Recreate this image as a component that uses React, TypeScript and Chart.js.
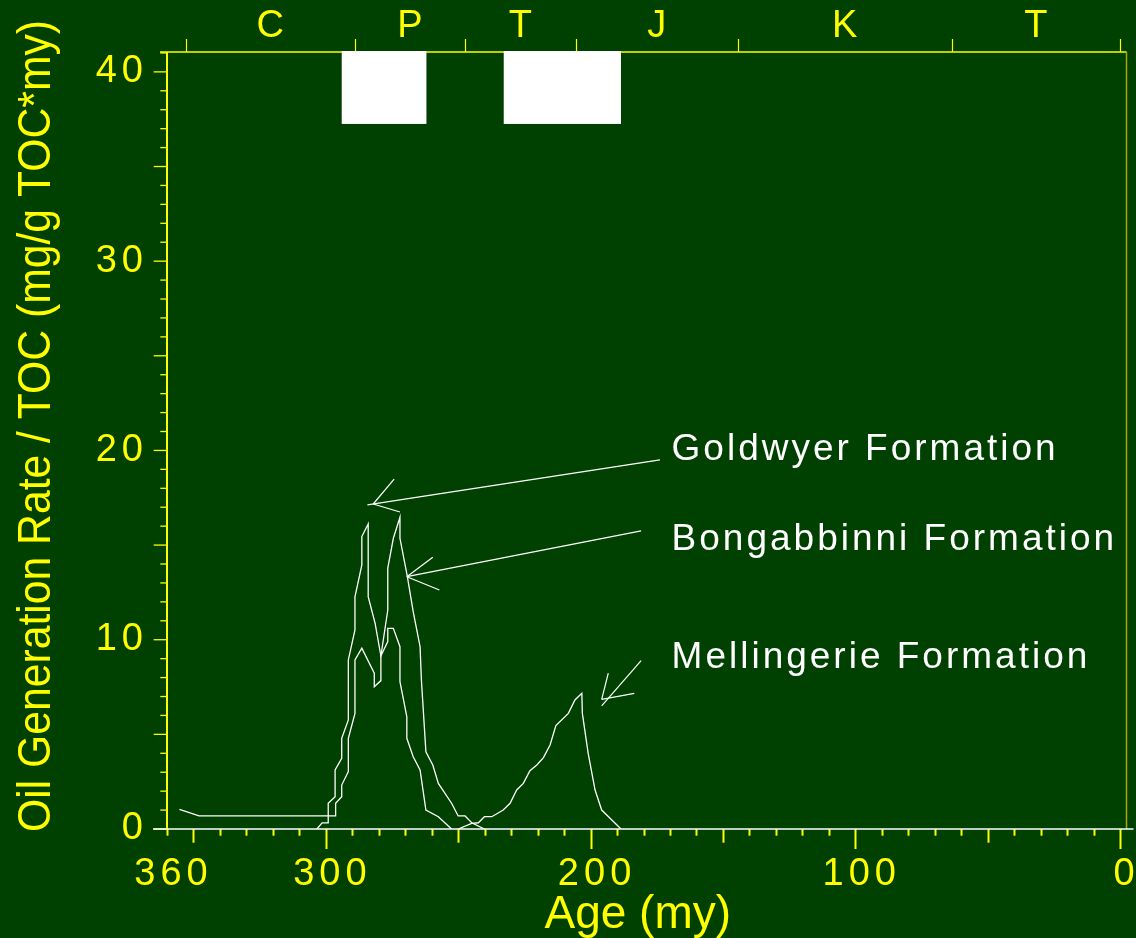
import React, { useEffect, useRef } from 'react';
import { Chart, registerables } from 'chart.js';

Chart.register(...registerables);

// ---------- axis ranges & tick labels ----------
const X_MIN = -2.45;
const X_MAX = 360;
const Y_MIN = 0;
const Y_MAX = 41.05;
const X_TICK_LABELS = [360, 300, 200, 100, 0];
const Y_TICK_LABELS = [0, 10, 20, 30, 40];

// ---------- geological periods (top axis) ----------
const PERIOD_NAMES = ['C', 'P', 'T', 'J', 'K', 'T'];
const PERIOD_BOUNDS = [353, 289, 247.5, 205.6, 144.4, 63.6, 0];

// ---------- series ----------
const GOLDWYER_AGE = [303.4, 301.4, 299.1, 299.1, 296.5, 296.5, 294.0, 294.0, 291.5, 291.5, 289.0, 289.0, 286.4, 286.4, 284.0, 284.0, 281.4, 279.2, 276.6, 276.6, 274.5, 272.0, 272.0, 269.4, 269.4, 267.0, 264.4, 262.2, 257.5, 252.5];
const GOLDWYER_RATE = [0, 0.32, 0.33, 1.36, 1.71, 3.12, 3.74, 4.79, 5.76, 8.93, 10.52, 12.27, 13.95, 15.45, 16.12, 12.27, 10.87, 9.14, 9.9, 10.6, 10.6, 9.63, 7.78, 5.93, 4.79, 3.82, 3.12, 1.0, 0.65, 0];

const BONGABBINNI_AGE = [355.3, 347.9, 296.3, 296.3, 294.0, 294.0, 291.5, 291.5, 289.0, 289.0, 286.4, 281.7, 281.7, 279.2, 279.2, 276.6, 276.6, 274.5, 272.0, 272.0, 269.2, 267.0, 264.4, 263.9, 262.2, 259.6, 257.5, 252.5, 250.0, 247.4, 244.9, 240.1];
const BONGABBINNI_RATE = [1.04, 0.69, 0.69, 1.36, 1.71, 2.32, 3.03, 4.79, 6.11, 8.93, 9.55, 8.23, 7.52, 7.84, 9.14, 11.57, 13.78, 15.36, 16.47, 15.36, 13.33, 11.48, 9.63, 7.87, 4.08, 3.38, 2.41, 1.36, 0.69, 0.69, 0.33, 0];

const MELLINGERIE_AGE = [250.0, 244.9, 242.4, 240.1, 237.3, 233.0, 230.4, 227.9, 225.4, 222.9, 220.3, 217.8, 215.3, 213.1, 208.4, 205.9, 203.3, 203.1, 200.9, 198.3, 195.8, 188.5];
const MELLINGERIE_RATE = [0, 0.3, 0.33, 0.65, 0.65, 1.0, 1.36, 2.06, 2.41, 3.08, 3.38, 3.77, 4.44, 5.46, 6.11, 6.82, 7.17, 6.11, 4.0, 2.06, 1.0, 0];

// ---------- white boxes near top (age ranges) ----------
const GAP_START = [294.0, 232.8];
const GAP_END = [262.0, 188.5];
const GAP_BASE = 37.25;

// ---------- annotations ----------
const LABEL_TEXT = ['Goldwyer Formation', 'Bongabbinni Formation', 'Mellingerie Formation'];
const LABEL_AGE = [169.4, 169.4, 169.4];
const LABEL_RATE = [19.5, 14.74, 8.51];

const ARROW_TAIL = [[173.8, 19.5], [180.9, 15.75], [180.9, 8.89]];
const ARROW_END = [[284.3, 17.12], [269.4, 13.33], [195.8, 6.5]];
const ARROW_VERTEX = [[282.1, 17.17], [269.4, 13.33], [195.8, 6.85]];
const ARROW_BARB1 = [[274.2, 18.49], [259.6, 14.36], [193.3, 8.23]];
const ARROW_BARB2 = [[272.0, 16.75], [257.1, 12.63], [183.5, 7.17]];

const X_TITLE = 'Age (my)';
const Y_TITLE = 'Oil Generation Rate / TOC (mg/g TOC*my)';

// ---------- styles ----------
const BG = '#004000';
const YELLOW = '#ffff00';
const WHITE = '#ffffff';
const FONT = "'Liberation Sans', Arial, Helvetica, sans-serif";

function seg(ctx: CanvasRenderingContext2D, x1: number, y1: number, x2: number, y2: number) {
  ctx.beginPath();
  ctx.moveTo(x1, y1);
  ctx.lineTo(x2, y2);
  ctx.stroke();
}

const decoPlugin = {
  id: 'deco',
  beforeDraw(chart: any) {
    const ctx = chart.ctx as any;
    ctx.save();
    ctx.fillStyle = BG;
    ctx.fillRect(0, 0, chart.width, chart.height);
    ctx.restore();
    ctx.letterSpacing = '5px';
  },
  afterDraw(chart: any) {
    const ctx = chart.ctx as any;
    const xs = chart.scales.x;
    const ys = chart.scales.y;
    const px = (v: number) => xs.getPixelForValue(v);
    const py = (v: number) => ys.getPixelForValue(v);
    const { left, right, top, bottom } = chart.chartArea;
    ctx.save();
    ctx.letterSpacing = '0px';
    ctx.lineCap = 'butt';

    // bottom tick marks
    ctx.strokeStyle = YELLOW;
    ctx.lineWidth = 2;
    for (let a = 0; a <= 360; a += 10) {
      const len = a % 100 === 0 ? 20 : a % 50 === 0 ? 13.7 : 6.7;
      const x = Math.round(px(a)) + 0.5;
      seg(ctx, x, bottom, x, bottom + len);
    }
    // left tick marks
    ctx.lineWidth = 1.3;
    for (let v = 0; v <= 41; v += 1) {
      const len = v % 5 === 0 ? 13.3 : 6.7;
      const y = py(v);
      seg(ctx, left - len, y, left, y);
    }
    // top period boundary ticks
    ctx.lineWidth = 1.2;
    for (const b of PERIOD_BOUNDS) {
      const x = Math.round(px(b)) + 0.5;
      seg(ctx, x, top - 13, x, top);
    }
    // frame lines
    ctx.lineWidth = 2;
    ctx.strokeStyle = YELLOW;
    seg(ctx, left, top, left, bottom);
    ctx.lineWidth = 1.5;
    seg(ctx, left - 7, top, right, top);
    ctx.strokeStyle = '#a8a800';
    seg(ctx, right, top, right, bottom);
    ctx.strokeStyle = WHITE;
    ctx.lineWidth = 1.5;
    seg(ctx, left - 14, bottom, right + 7, bottom);

    // white boxes
    ctx.fillStyle = WHITE;
    for (let i = 0; i < GAP_START.length; i++) {
      const x1 = px(GAP_START[i]);
      const x2 = px(GAP_END[i]);
      const y1 = py(Y_MAX);
      const y2 = py(GAP_BASE);
      ctx.fillRect(x1, y1 - 1, x2 - x1, y2 - y1 + 1);
    }

    // arrows
    ctx.strokeStyle = WHITE;
    ctx.lineWidth = 1.2;
    for (let i = 0; i < ARROW_TAIL.length; i++) {
      seg(ctx, px(ARROW_TAIL[i][0]), py(ARROW_TAIL[i][1]), px(ARROW_END[i][0]), py(ARROW_END[i][1]));
      const vx = px(ARROW_VERTEX[i][0]);
      const vy = py(ARROW_VERTEX[i][1]);
      seg(ctx, vx, vy, px(ARROW_BARB1[i][0]), py(ARROW_BARB1[i][1]));
      seg(ctx, vx, vy, px(ARROW_BARB2[i][0]), py(ARROW_BARB2[i][1]));
    }

    // annotation labels
    ctx.fillStyle = WHITE;
    ctx.font = `37px ${FONT}`;
    ctx.letterSpacing = '3px';
    ctx.textAlign = 'left';
    ctx.textBaseline = 'alphabetic';
    for (let i = 0; i < LABEL_TEXT.length; i++) {
      ctx.fillText(LABEL_TEXT[i], px(LABEL_AGE[i]), py(LABEL_RATE[i]));
    }

    // axis titles
    ctx.letterSpacing = '0px';
    ctx.fillStyle = YELLOW;
    ctx.font = `46px ${FONT}`;
    ctx.textAlign = 'center';
    ctx.fillText(X_TITLE, (left + right) / 2 - 9, 928);

    ctx.save();
    ctx.translate(50, 426);
    ctx.rotate(-Math.PI / 2);
    const w = ctx.measureText(Y_TITLE).width;
    ctx.scale(812 / w, 1);
    ctx.fillText(Y_TITLE, 0, 0);
    ctx.restore();

    ctx.restore();
  },
};

const periodMids = PERIOD_NAMES.map((_, i) => (PERIOD_BOUNDS[i] + PERIOD_BOUNDS[i + 1]) / 2);

function makeSeries(label: string, ages: number[], rates: number[]) {
  return {
    label,
    data: ages.map((a, i) => ({ x: a, y: rates[i] })),
    borderColor: WHITE,
    borderWidth: 1.3,
    pointRadius: 0,
    pointHoverRadius: 0,
    tension: 0,
    fill: false,
    xAxisID: 'x',
    yAxisID: 'y',
  };
}

export default function App() {
  const ref = useRef<HTMLCanvasElement>(null);
  useEffect(() => {
    document.body.style.margin = '0';
    document.body.style.background = BG;
    const tickFont = { family: FONT, size: 38, lineHeight: 1.2 };
    const chart = new Chart(ref.current as HTMLCanvasElement, {
      type: 'line',
      data: {
        datasets: [
          makeSeries('Goldwyer Formation', GOLDWYER_AGE, GOLDWYER_RATE),
          makeSeries('Bongabbinni Formation', BONGABBINNI_AGE, BONGABBINNI_RATE),
          makeSeries('Mellingerie Formation', MELLINGERIE_AGE, MELLINGERIE_RATE),
        ] as any,
      },
      options: {
        responsive: false,
        animation: false,
        devicePixelRatio: 1,
        layout: { padding: { left: 0, right: 9.5, top: 0, bottom: 0 } },
        plugins: { legend: { display: false }, tooltip: { enabled: false }, title: { display: false } },
        events: [],
        scales: {
          x: {
            type: 'linear',
            position: 'bottom',
            min: X_MIN,
            max: X_MAX,
            reverse: true,
            afterBuildTicks: (s: any) => {
              s.ticks = X_TICK_LABELS.map((v) => ({ value: v }));
            },
            afterFit: (s: any) => {
              s.height = 109;
              s.paddingLeft = 0;
              s.paddingRight = 0;
            },
            grid: { display: false, drawTicks: false },
            border: { display: false },
            ticks: {
              color: YELLOW,
              font: tickFont,
              padding: 23,
              labelOffset: 6.5,
              maxRotation: 0,
              minRotation: 0,
              autoSkip: false,
              callback: (v: any) => String(v),
            },
          },
          xTop: {
            type: 'linear',
            position: 'top',
            min: X_MIN,
            max: X_MAX,
            reverse: true,
            afterBuildTicks: (s: any) => {
              s.ticks = periodMids.map((v) => ({ value: v }));
            },
            afterFit: (s: any) => {
              s.height = 52;
              s.paddingLeft = 0;
              s.paddingRight = 0;
            },
            grid: { display: false, drawTicks: false },
            border: { display: false },
            ticks: {
              color: YELLOW,
              font: tickFont,
              padding: 3,
              labelOffset: 2.5,
              maxRotation: 0,
              minRotation: 0,
              autoSkip: false,
              callback: (_v: any, i: number) => PERIOD_NAMES[i],
            },
          },
          y: {
            type: 'linear',
            position: 'left',
            min: Y_MIN,
            max: Y_MAX,
            afterBuildTicks: (s: any) => {
              s.ticks = Y_TICK_LABELS.map((v) => ({ value: v }));
            },
            afterFit: (s: any) => {
              s.width = 167;
              s.paddingTop = 0;
              s.paddingBottom = 0;
            },
            grid: { display: false, drawTicks: false },
            border: { display: false },
            ticks: {
              color: YELLOW,
              font: tickFont,
              padding: 19,
              autoSkip: false,
              callback: (v: any) => String(v),
            },
          },
        },
      } as any,
      plugins: [decoPlugin as any],
    });
    return () => chart.destroy();
  }, []);
  return (
    <div style={{ width: 1136, height: 938 }}>
      <canvas ref={ref} width={1136} height={938} style={{ display: 'block', width: 1136, height: 938 }} />
    </div>
  );
}
